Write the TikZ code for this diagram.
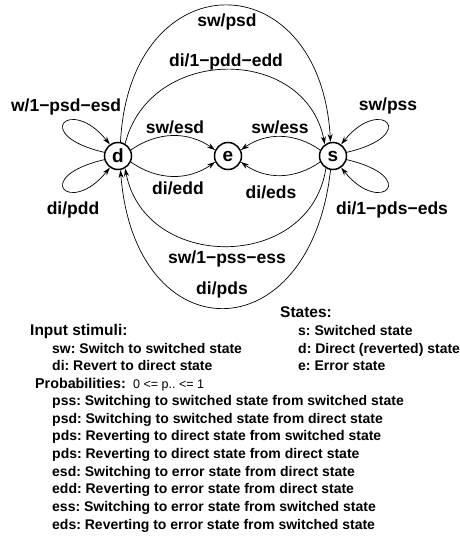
\documentclass[tikz,border=0pt]{standalone}
\usepackage{fontspec}
\setmainfont{Liberation Sans}
\usetikzlibrary{arrows.meta}
\frenchspacing
\begin{document}
\begin{tikzpicture}[x=1pt,y=-1pt,
  state/.style={circle, draw, line width=1.5pt, minimum size=27pt, inner sep=0pt, font=\fontsize{19}{20}\selectfont\bfseries},
  lbl/.style={font=\fontsize{17.5}{20}\selectfont\bfseries, inner sep=0pt},
  txt/.style={font=\fontsize{14}{16}\selectfont\bfseries, anchor=base west, inner sep=0pt},
  head/.style={font=\fontsize{15.5}{18}\selectfont\bfseries, anchor=base west, inner sep=0pt},
  edge/.style={-{Stealth[length=8pt,width=5pt]}, line width=0.7pt}]
\useasboundingbox (0,0) rectangle (460,536);
\node[state] (d) at (118,156) {d};
\node[state] (e) at (228,156) {e};
\node[state] (s) at (333,156) {s};
% d -> s upper arcs
\draw[edge] (d.80) .. controls (130,-40) and (320,-40) .. (s.100);
\draw[edge] (d.60) .. controls (150,45) and (305,45) .. (s.125);
% s -> d lower arcs
\draw[edge] (s.240) .. controls (310,272) and (145,272) .. (d.300);
\draw[edge] (s.260) .. controls (310,354) and (135,354) .. (d.280);
% d loops
\draw[edge] (d.165) .. controls (30,135) and (70,95) .. (d.125);
\draw[edge] (d.195) .. controls (30,177) and (70,217) .. (d.235);
% s loops
\draw[edge] (s.15) .. controls (421,135) and (381,95) .. (s.55);
\draw[edge] (s.345) .. controls (421,177) and (381,217) .. (s.305);
% d,s -> e
\draw[edge] (d.25) to[bend left=35] (e.155);
\draw[edge] (d.335) to[bend right=35] (e.205);
\draw[edge] (s.155) to[bend right=35] (e.25);
\draw[edge] (s.205) to[bend left=35] (e.335);
% labels
\node[lbl] (l1) at (227,22) {sw/psd};
\node[lbl] (l2) at (226,62) {di/1−pdd−edd};
\node[lbl] (l3) at (66,107) {w/1−psd−esd};
\node[lbl] (l4) at (73,210) {di/pdd};
\node[lbl] (l5) at (388,106) {sw/pss};
\node[lbl] (l6) at (392,210) {di/1−pds−eds};
\node[lbl] (l7) at (175,127) {sw/esd};
\node[lbl] (l8) at (178,188) {di/edd};
\node[lbl] (l9) at (280,127) {sw/ess};
\node[lbl] (l10) at (271,192) {di/eds};
\node[lbl] (l11) at (227,259) {sw/1−pss−ess};
\node[lbl] (l12) at (222,290) {di/pds};
% legend
\node[head] (st) at (280,317.5) {States:};
\node[txt] (st1) at (298,335) {s: Switched state};
\node[txt] (st2) at (298,353) {d: Direct (reverted) state};
\node[txt] (st3) at (298,370.5) {e: Error state};
\node[head] (in) at (30,335.5) {Input stimuli:};
\node[txt] (in1) at (52,353) {sw: Switch to switched state};
\node[txt] (in2) at (52,370.5) {di: Revert to direct state};
\node[head, font=\fontsize{14.3}{16}\selectfont\bfseries] (pr) at (35,388) {Probabilities:};
\node[anchor=base west, inner sep=0pt, font=\fontsize{12.5}{14}\selectfont] (prr) at (133,388) {0 <= p.. <= 1};
\node[txt] (p1) at (52,405) {pss: Switching to switched state from switched state};
\node[txt] (p2) at (52,423) {psd: Switching to switched state from direct state};
\node[txt] (p3) at (52,440.5) {pds: Reverting to direct state from switched state};
\node[txt] (p4) at (52,458) {pds: Reverting to direct state from direct state};
\node[txt] (p5) at (52,476) {esd: Switching to error state from direct state};
\node[txt] (p6) at (52,493.5) {edd: Reverting to error state from direct state};
\node[txt] (p7) at (52,511) {ess: Switching to error state from switched state};
\node[txt] (p8) at (52,529) {eds: Reverting to error state from switched state};
\end{tikzpicture}
\end{document}
